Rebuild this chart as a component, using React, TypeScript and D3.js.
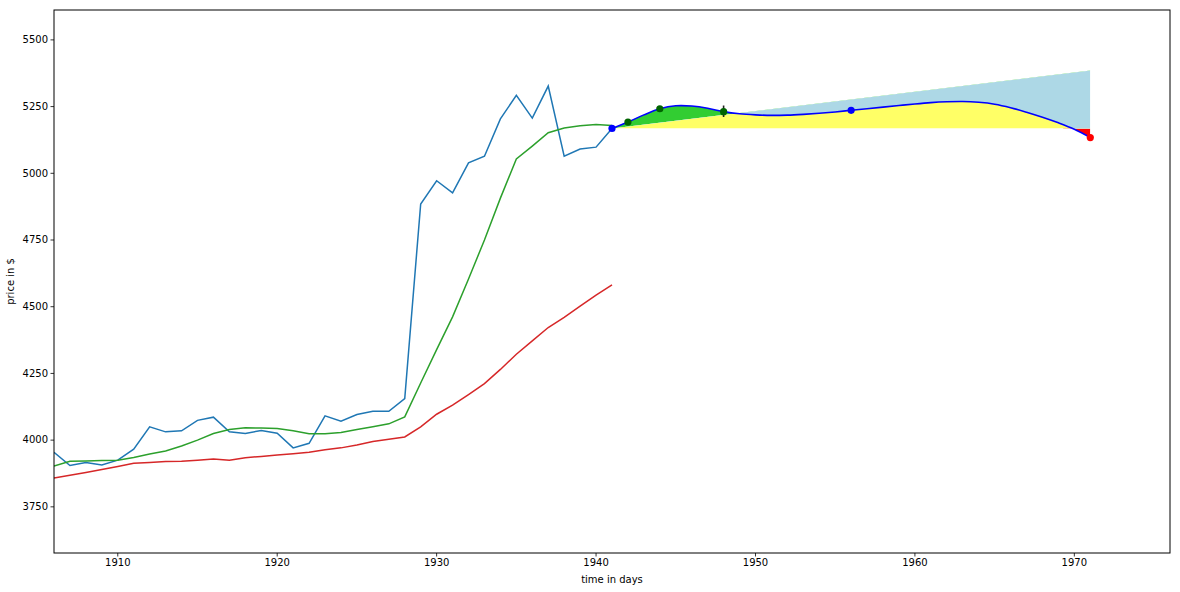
import React from "react";
import * as d3 from "d3";

const days = [1906,1907,1908,1909,1910,1911,1912,1913,1914,1915,1916,1917,1918,1919,1920,1921,1922,1923,1924,1925,1926,1927,1928,1929,1930,1931,1932,1933,1934,1935,1936,1937,1938,1939,1940,1941];
const price = [3954,3905,3916,3907,3925,3966,4050,4031,4035,4074,4086,4031,4025,4036,4026,3971,3988,4091,4071,4096,4108,4108,4156,4885,4972,4927,5039,5064,5204,5292,5207,5327,5064,5091,5098,5168];
const fastAvg = [3903,3921,3922,3924,3925,3935,3948,3959,3978,4000,4025,4040,4046,4045,4044,4035,4024,4024,4029,4040,4050,4061,4087,4214,4339,4462,4604,4750,4907,5054,5102,5152,5170,5178,5183,5179];
const slowAvg = [3858,3868,3879,3890,3901,3913,3916,3920,3921,3925,3929,3925,3934,3939,3944,3949,3955,3964,3971,3982,3995,4003,4012,4050,4097,4131,4171,4212,4265,4322,4372,4422,4460,4502,4543,4582];

const fcDays = [1941,1942,1943,1944,1945,1946,1947,1948,1949,1950,1951,1952,1953,1954,1955,1956,1957,1958,1959,1960,1961,1962,1963,1964,1965,1966,1967,1968,1969,1970,1971];
const fcValues = [5168,5192,5219,5242,5253,5252,5244,5231,5223,5219,5217,5218,5221,5225,5230,5236,5242,5248,5254,5260,5265,5268,5269,5266,5259,5246,5229,5210,5189,5165,5134];

const trendDays = [1941, 1971];
const trendValues = [5168, 5385];
const baseValue = 5168;
const dropStartDay = 1969.3;

const blueDotDays = [1941, 1956];
const blueDotValues = [5168, 5236];
const greenDotDays = [1942, 1944, 1948];
const greenDotValues = [5192, 5242, 5231];
const redDotDays = [1971];
const redDotValues = [5134];
const errDay = 1948;
const errLow = 5211;
const errHigh = 5254;

const xTicks = [1910, 1920, 1930, 1940, 1950, 1960, 1970];
const yTicks = [3750, 4000, 4250, 4500, 4750, 5000, 5250, 5500];

export default function App() {
  const L = 54, R = 1170, T = 10, B = 553;
  const x = d3.scaleLinear().domain([1906, 1976]).range([L, R]);
  const y = d3.scaleLinear().domain([3577, 5612]).range([B, T]);
  const font = "'DejaVu Sans', sans-serif";

  const line = d3.line<number>().x((_, i) => x(days[i])).y((d) => y(d));
  const fcLine = d3
    .line<number>()
    .x((_, i) => x(fcDays[i]))
    .y((d) => y(d))
    .curve(d3.curveCatmullRom);
  const cPath = fcLine(fcValues) as string;

  const x0 = x(trendDays[0]);
  const x1 = x(trendDays[1]);
  const yB = y(baseValue);
  const yL0 = y(trendValues[0]);
  const yL1 = y(trendValues[1]);

  const pathToBase = `${cPath}L${x1},${yB}L${x0},${yB}Z`;
  const pathToTrend = `${cPath}L${x1},${yL1}L${x0},${yL0}Z`;
  const tri = `M${x0},${yB}L${x1},${yL1}L${x1},${yB}Z`;
  const aboveL = `M${x0},${yL0}L${x1},${yL1}L${x1},${T}L${x0},${T}Z`;
  const xd = x(dropStartDay);
  const belowB = `M${xd},${yB}L${x1},${yB}L${x1},${B}L${xd},${B}Z`;

  return (
    <svg width={1180} height={592} style={{ position: "absolute", left: 0, top: 0, background: "#fff" }}>
      <defs>
        <clipPath id="plot"><rect x={L} y={T} width={R - L} height={B - T} /></clipPath>
        <clipPath id="tri"><path d={tri} /></clipPath>
        <clipPath id="aboveL"><path d={aboveL} /></clipPath>
        <clipPath id="belowB"><path d={belowB} /></clipPath>
      </defs>
      <rect x={0} y={0} width={1180} height={592} fill="#fff" />
      <g clipPath="url(#plot)">
        <path d={line(price) as string} fill="none" stroke="#1f77b4" strokeWidth={1.5} />
        <path d={line(fastAvg) as string} fill="none" stroke="#2ca02c" strokeWidth={1.5} />
        <path d={line(slowAvg) as string} fill="none" stroke="#d62728" strokeWidth={1.5} />
        <path d={pathToBase} fill="#ff0000" clipPath="url(#belowB)" />
        <path d={pathToBase} fill="#ffff66" clipPath="url(#tri)" />
        <path d={pathToTrend} fill="#32cd32" clipPath="url(#aboveL)" />
        <path d={pathToTrend} fill="#add8e6" clipPath="url(#tri)" />
        <path d={cPath} fill="none" stroke="#0000ff" strokeWidth={1.6} />
        <line x1={x(errDay)} x2={x(errDay)} y1={y(errLow)} y2={y(errHigh)} stroke="#222" strokeWidth={1.6} />
        {blueDotDays.map((d, i) => (
          <circle key={"b" + i} cx={x(d)} cy={y(blueDotValues[i])} r={3.6} fill="#0000ff" />
        ))}
        {greenDotDays.map((d, i) => (
          <circle key={"g" + i} cx={x(d)} cy={y(greenDotValues[i])} r={3.6} fill="#006400" />
        ))}
        {redDotDays.map((d, i) => (
          <circle key={"r" + i} cx={x(d)} cy={y(redDotValues[i])} r={3.6} fill="#ff0000" />
        ))}
      </g>
      <rect x={L} y={T} width={R - L} height={B - T} fill="none" stroke="#000" strokeWidth={1} />
      {xTicks.map((t) => (
        <g key={"x" + t} transform={`translate(${x(t)},${B})`}>
          <line y1={0} y2={3.5} stroke="#000" strokeWidth={0.8} />
          <text y={13} textAnchor="middle" fontSize={10} fontFamily={font} fill="#000">{t}</text>
        </g>
      ))}
      {yTicks.map((t) => (
        <g key={"y" + t} transform={`translate(${L},${y(t)})`}>
          <line x1={0} x2={-3.5} stroke="#000" strokeWidth={0.8} />
          <text x={-6} dy="0.32em" textAnchor="end" fontSize={10} fontFamily={font} fill="#000">{t}</text>
        </g>
      ))}
      <text x={(L + R) / 2} y={583} textAnchor="middle" fontSize={10} fontFamily={font} fill="#000">time in days</text>
      <text transform={`translate(14,${(T + B) / 2}) rotate(-90)`} textAnchor="middle" fontSize={10} fontFamily={font} fill="#000">price in $</text>
    </svg>
  );
}
